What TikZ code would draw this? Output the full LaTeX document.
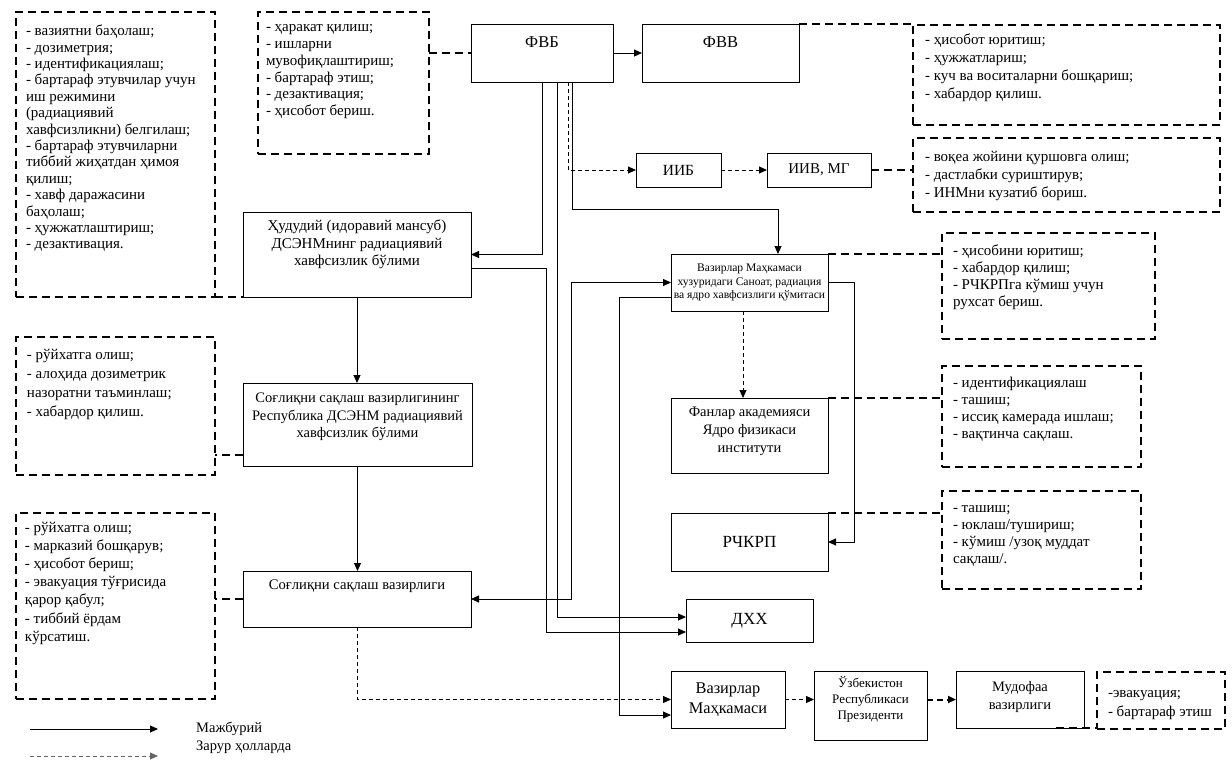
\documentclass[tikz,border=0pt]{standalone}
\usepackage{fontspec}
\setmainfont{Liberation Serif}
\usetikzlibrary{arrows.meta}
\newcommand{\mkpar}[5]{\parbox[c][#2][t]{#1}{\vspace*{#3}#4\strut#5}}
\newcommand{\mkmid}[3]{\parbox[c][#2][c]{#1}{#3}}
\newcommand{\dfmt}[2]{\raggedright\leftskip=#1\relax\fontsize{15}{#2}\selectfont}
\newcommand{\cfmt}[2]{\centering\fontsize{#1}{#2}\selectfont}
\begin{document}
\begin{tikzpicture}[x=1pt,y=-1pt,
  solidbox/.style={draw=black, line width=1pt, inner sep=0pt, outer sep=0pt, anchor=north west},
  dashbox/.style={draw=black, line width=2.3pt, dash pattern=on 8pt off 5pt, inner sep=0pt, outer sep=0pt, anchor=north west},
  conn/.style={line width=1pt, -{Triangle[length=8pt,width=7pt]}},
  biconn/.style={line width=1pt, {Triangle[length=8pt,width=7pt]}-{Triangle[length=8pt,width=7pt]}},
  dconn/.style={line width=0.9pt, dash pattern=on 4pt off 3pt, -{Triangle[length=8pt,width=7pt]}},
  dconnb/.style={line width=2pt, dash pattern=on 6pt off 4pt, -{Triangle[length=8pt,width=7pt]}},
  dlink/.style={line width=2.3pt, dash pattern=on 8pt off 5pt},
  legtext/.style={anchor=west, inner sep=0pt, font=\fontsize{14.5}{17}\selectfont}
]
\fill[white] (0,0) rectangle (1232,769);
\useasboundingbox (0,0) rectangle (1232,769);

% dashed boxes
\node[dashbox] (L1) at (16,12) {\mkpar{199pt}{285pt}{12.3pt}{\dfmt{10pt}{16.4}}{- вазиятни баҳолаш;\\- дозиметрия;\\- идентификациялаш;\\- бартараф этувчилар учун\\иш режимини\\(радиациявий\\хавфсизликни) белгилаш;\\- бартараф этувчиларни\\тиббий жиҳатдан ҳимоя\\қилиш;\\- хавф даражасини\\баҳолаш;\\- ҳужжатлаштириш;\\- дезактивация.}};
\node[dashbox] (L2) at (258,12) {\mkpar{171pt}{142pt}{8pt}{\dfmt{8pt}{16.8}}{- ҳаракат қилиш;\\- ишларни\\мувофиқлаштириш;\\- бартараф этиш;\\- дезактивация;\\- ҳисобот бериш.}};
\node[dashbox] (R1) at (913,25) {\mkpar{307pt}{100pt}{6.4pt}{\dfmt{12pt}{18}}{- ҳисобот юритиш;\\- ҳужжатлариш;\\- куч ва воситаларни бошқариш;\\- хабардор қилиш.}};
\node[dashbox] (R2) at (913,138) {\mkpar{307pt}{74pt}{10.4pt}{\dfmt{12pt}{18}}{- воқеа жойини қуршовга олиш;\\- дастлабки суриштирув;\\- ИНМни кузатиб бориш.}};
\node[dashbox] (R3) at (942,233) {\mkpar{213pt}{106pt}{9.9pt}{\dfmt{11pt}{17.3}}{- ҳисобини юритиш;\\- хабардор қилиш;\\- РЧКРПга кўмиш учун\\рухсат бериш.}};
\node[dashbox] (R4) at (942,366) {\mkpar{199pt}{101pt}{8.9pt}{\dfmt{11pt}{17.3}}{- идентификациялаш\\- ташиш;\\- иссиқ камерада ишлаш;\\- вақтинча сақлаш.}};
\node[dashbox] (R5) at (942,491) {\mkpar{199pt}{98pt}{9.1pt}{\dfmt{11pt}{17}}{- ташиш;\\- юклаш/тушириш;\\- кўмиш /узоқ муддат\\сақлаш/.}};
\node[dashbox] (L3) at (16,337) {\mkpar{199pt}{138pt}{8.7pt}{\dfmt{11pt}{19}}{- рўйхатга олиш;\\- алоҳида дозиметрик\\назоратни таъминлаш;\\- хабардор қилиш.}};
\node[dashbox] (L4) at (16,513) {\mkpar{199pt}{186pt}{6.3pt}{\dfmt{9pt}{18.2}}{- рўйхатга олиш;\\- марказий бошқарув;\\- ҳисобот бериш;\\- эвакуация тўғрисида\\қарор қабул;\\- тиббий ёрдам\\кўрсатиш.}};
\node[dashbox] (R6) at (1097,672) {\mkpar{128pt}{57pt}{11.7pt}{\dfmt{11pt}{19}}{-эвакуация;\\- бартараф этиш}};

% solid boxes
\node[solidbox] (fvb) at (471,24) {\mkpar{142pt}{58pt}{10.5pt}{\cfmt{16.5}{19}}{ФВБ}};
\node[solidbox] (fvv) at (642,24) {\mkpar{157pt}{58pt}{10.5pt}{\cfmt{16.5}{19}}{ФВВ}};
\node[solidbox] (iib) at (636,153) {\mkmid{85pt}{34pt}{\cfmt{15.5}{18}ИИБ}};
\node[solidbox] (iiv) at (767,153) {\mkmid{104pt}{34pt}{\cfmt{15}{18}ИИВ, МГ}};
\node[solidbox] (H) at (243,212) {\mkpar{228pt}{85pt}{6.6pt}{\cfmt{15}{17.5}}{Ҳудудий (идоравий мансуб)\\ДСЭНМнинг радиациявий\\хавфсизлик бўлими}};
\node[solidbox] (Q) at (671,254) {\mkmid{157pt}{57pt}{\cfmt{11.6}{13.5}Вазирлар Маҳкамаси\\хузуридаги Саноат, радиация\\ва ядро хавфсизлиги қўмитаси}};
\node[solidbox] (SR) at (243,383) {\mkpar{229pt}{83pt}{7.6pt}{\cfmt{14.5}{17.5}}{Соғлиқни сақлаш вазирлигининг\\Республика ДСЭНМ радиациявий\\хавфсизлик бўлими}};
\node[solidbox] (F) at (671,398) {\mkpar{157pt}{75pt}{6.3pt}{\cfmt{14.5}{18}}{Фанлар академияси\\Ядро физикаси\\институти}};
\node[solidbox] (RP) at (671,513) {\mkmid{157pt}{58pt}{\cfmt{17}{19}РЧКРП}};
\node[solidbox] (SV) at (243,571) {\mkpar{228pt}{56pt}{7.6pt}{\cfmt{14.6}{16}}{Соғлиқни сақлаш вазирлиги}};
\node[solidbox] (dxx) at (686,599) {\mkmid{127pt}{43pt}{\cfmt{17}{19}ДХХ}};
\node[solidbox] (VM) at (671,671) {\mkmid{114pt}{57pt}{\cfmt{16.3}{19.5}Вазирлар\\Маҳкамаси}};
\node[solidbox] (PR) at (814,671) {\mkpar{113pt}{69pt}{5pt}{\cfmt{13}{16}}{Ўзбекистон\\Республикаси\\Президенти}};
\node[solidbox] (MU) at (956,671) {\mkpar{128pt}{57pt}{8.6pt}{\cfmt{14.5}{17.5}}{Мудофаа\\вазирлиги}};

% lane coordinates
\coordinate (xA) at (542,0);
\coordinate (xB) at (557,0);
\coordinate (xC) at (568,0);
\coordinate (xD) at (572,0);
\coordinate (xE) at (546,0);
\coordinate (xF) at (571,0);
\coordinate (xG) at (619,0);
\coordinate (xQ) at (743,0);
\coordinate (xI) at (854,0);
\coordinate (bend1) at (778,209);
\coordinate (dxxhi) at ([yshift=3.5pt]dxx.west);
\coordinate (dxxlo) at ([yshift=-11.5pt]dxx.west);
\coordinate (vmlo) at ([yshift=-15.5pt]VM.west);

% solid connectors
\draw[conn] (fvb) -- (fvv);
\draw[conn] (fvb.south -| xA) |- (H.east);
\draw[conn] (fvb.south -| xB) |- (dxxhi);
\draw[conn] (fvb.south -| xD) |- (bend1) -- (Q.north -| bend1);
\draw[conn] ([yshift=-13.5pt]H.east) -| (xE |- dxxlo) -- (dxxlo);
\draw[conn] (H.south) -- (H.south |- SR.north);
\draw[conn] (SR.south) -- (SR.south |- SV.north);
\draw[biconn] (Q.west) -| (xF |- SV.east) -- (SV.east);
\draw[conn] ([yshift=-14.5pt]Q.west) -| (xG |- vmlo) -- (vmlo);
\draw[conn] (Q.east) -| (xI |- RP.east) -- (RP.east);

% thin dashed connectors
\draw[dconn] (fvb.south -| xC) |- (iib.west);
\draw[dconn] (iib) -- (iiv);
\draw[dconn] (Q.south -| xQ) -- (F.north -| xQ);
\draw[dconn] (SV.south) |- (VM.west);
\draw[dconn] (VM.east) -- (VM.east -| PR.west);
\draw[dconnb] (PR.east |- MU.west) -- (MU.west);

% thick dashed links
\draw[dlink] (L2.east |- fvb.west) -- (fvb.west);
\draw[dlink] (fvv.north east) -- (fvv.north east -| R1.west);
\draw[dlink] (iiv.east) -- (iiv.east -| R2.west);
\draw[dlink] (L1.south east) -- (L1.south east -| H.west);
\draw[dlink] (Q.north east) -- (Q.north east -| R3.west);
\draw[dlink] (F.north east) -- (F.north east -| R4.west);
\draw[dlink] (RP.north east) -- (RP.north east -| R5.west);
\draw[dlink] ([yshift=-30.5pt]SR.west) -- ([yshift=-30.5pt]SR.west -| L3.east);
\draw[dlink] (SV.west) -- (SV.west -| L4.east);
\draw[dlink] ([xshift=-28pt]MU.south east) -- (MU.south east -| R6.west);

% legend
\coordinate (ls1) at (30,729);
\coordinate (le1) at (158,729);
\coordinate (ls2) at (30,756);
\coordinate (le2) at (158,756);
\draw[conn] (ls1) -- (le1);
\draw[dconn, draw=black!60] (ls2) -- (le2);
\node[legtext] (lgA) at (196,729) {Мажбурий};
\node[legtext] (lgB) at (196,747) {Зарур ҳолларда};
\end{tikzpicture}
\end{document}
